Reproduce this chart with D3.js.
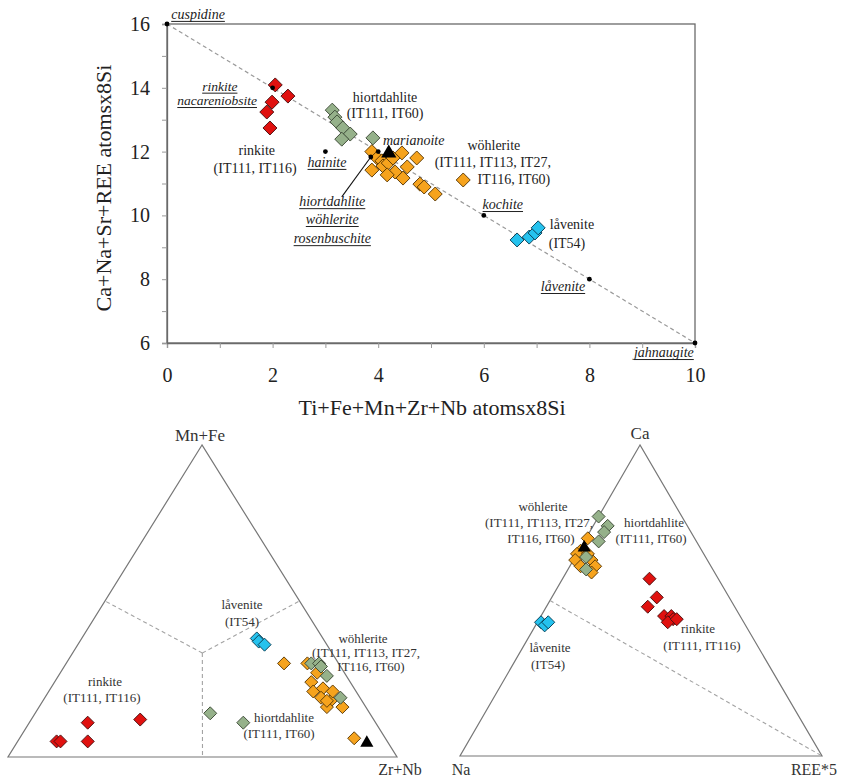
<!DOCTYPE html>
<html>
<head>
<meta charset="utf-8">
<script src="https://cdn.jsdelivr.net/npm/d3@7"></script>
<style>
  html, body { margin: 0; padding: 0; background: #fff; }
  svg { display: block; font-family: "Liberation Serif", "Times New Roman", serif; }
</style>
</head>
<body>
<svg id="chart" width="843" height="780"></svg>
<script>
// ---------- Binary plot: Ti+Fe+Mn+Zr+Nb vs Ca+Na+Sr+REE (atoms x 8 Si) ----------
const xTickValues = [0, 1, 2, 3, 4, 5, 6, 7, 8, 9, 10];
const yTickValues = [6, 7, 8, 9, 10, 11, 12, 13, 14, 15, 16];

const rinkiteXY = [[2.05, 14.09], [2.29, 13.74], [1.99, 13.55], [1.89, 13.24], [1.95, 12.74]];
const hiortdahliteXY = [[3.13, 13.30], [3.18, 13.08], [3.22, 12.93], [3.33, 12.74], [3.47, 12.55], [3.31, 12.39], [3.90, 12.43]];
const wohleriteXY = [
  [3.88, 12.00], [3.98, 11.80], [4.07, 11.71], [4.45, 11.96], [4.73, 11.80], [3.88, 11.42],
  [4.09, 11.55], [4.19, 11.64], [4.32, 11.36], [4.17, 11.27], [4.47, 11.17], [4.55, 11.52],
  [4.79, 10.98], [4.87, 10.89], [5.08, 10.67], [5.61, 11.11], [4.28, 11.80]
];
const laveniteXY = [[6.63, 9.23], [6.86, 9.32], [6.97, 9.45], [7.03, 9.61]];
const sampleTriangleXY = [[4.20, 11.95]];

// ideal end-member compositions along the substitution trend
const endMemberNames = ["cuspidine", "rinkite", "hainite", "marianoite", "hiortdahlite-wöhlerite-rosenbuschite", "kochite", "låvenite", "jahnaugite"];
const endMemberX = [0, 2, 3, 4, 3.86, 6, 8, 10];
const endMemberY = [16, 14, 12, 12, 11.83, 10, 8, 6];
const trendLine = [[0, 16], [10, 6]];

// ---------- Ternary Mn+Fe – Zr+Nb – Ti (fractions: [Mn+Fe, Zr+Nb]) ----------
const triA_rinkite = [[0.05, 0.10], [0.05, 0.11], [0.11, 0.15], [0.05, 0.18], [0.12, 0.28]];
const triA_wohlerite = [
  [0.30, 0.56], [0.30, 0.62], [0.24, 0.66], [0.21, 0.68], [0.22, 0.70], [0.19, 0.71], [0.18, 0.74],
  [0.21, 0.73], [0.16, 0.74], [0.16, 0.78], [0.27, 0.66], [0.18, 0.73], [0.06, 0.86]
];
const triA_hiortdahlite = [[0.14, 0.45], [0.11, 0.55], [0.30, 0.63], [0.30, 0.65], [0.29, 0.66], [0.26, 0.69], [0.19, 0.76]];
const triA_lavenite = [[0.38, 0.45], [0.37, 0.46], [0.36, 0.48]];
const triA_triangle = [[0.045, 0.90]];

// ---------- Ternary Ca – REE*5 – Na (fractions: [Ca, REE*5]) ----------
const triB_rinkite = [[0.57, 0.24], [0.51, 0.29], [0.48, 0.28], [0.45, 0.34], [0.45, 0.36], [0.44, 0.37], [0.43, 0.36], [0.44, 0.38]];
const triB_wohlerite = [[0.70, 0.005], [0.66, 0.005], [0.65, 0.0], [0.63, 0.05], [0.61, 0.07], [0.59, 0.07], [0.63, 0.005], [0.65, 0.03], [0.61, 0.03]];
const triB_hiortdahlite = [[0.77, 0.0], [0.74, 0.04], [0.72, 0.04], [0.69, 0.04], [0.64, 0.03], [0.60, 0.05]];
const triB_lavenite = [[0.43, 0.01], [0.42, 0.025], [0.43, 0.03]];
const triB_triangle = [[0.67, 0.01]];

// ---------- Styles ----------
const styles = {
  rinkite:      { fill: "#e0110f", stroke: "#4a1010" },
  wohlerite:    { fill: "#f6a31d", stroke: "#5b3a05" },
  hiortdahlite: { fill: "#95b18a", stroke: "#3e4b38" },
  lavenite:     { fill: "#25c2ee", stroke: "#0b3f55" }
};
const axisColor = "#6a6a6a";
const textColor = "#222";

const svg = d3.select("#chart");

// diamond = square rotated 45°
function diamond(halfDiag) {
  const side = halfDiag * Math.SQRT2;
  return d3.symbol().type(d3.symbolSquare).size(side * side)();
}
const triPath = d3.symbol().type(d3.symbolTriangle);

function drawSeries(g, pts, project, style, halfDiag) {
  g.selectAll(null).data(pts).join("path")
    .attr("d", diamond(halfDiag))
    .attr("transform", d => { const p = project(d); return `translate(${p[0]},${p[1]}) rotate(45)`; })
    .attr("fill", style.fill).attr("stroke", style.stroke).attr("stroke-width", 0.9);
}
function drawTriangles(g, pts, project, size) {
  g.selectAll(null).data(pts).join("path")
    .attr("d", triPath.size(size)())
    .attr("transform", d => { const p = project(d); return `translate(${p[0]},${p[1]})`; })
    .attr("fill", "#000");
}

// ================= Binary plot =================
const x = d3.scaleLinear().domain([0, 10]).range([167, 695]);
const y = d3.scaleLinear().domain([6, 16]).range([343, 24]);
const plot = svg.append("g");

// frame
plot.append("rect").attr("x", x(0)).attr("y", y(16)).attr("width", x(10) - x(0)).attr("height", y(6) - y(16))
  .attr("fill", "none").attr("stroke", axisColor).attr("stroke-width", 1.3);

const xAxis = d3.axisBottom(x).tickValues(xTickValues).tickFormat(d => d % 2 === 0 ? d : "").tickSize(5).tickPadding(20);
const yAxis = d3.axisLeft(y).tickValues(yTickValues).tickFormat(d => d % 2 === 0 ? d : "").tickSize(5).tickPadding(12);
const gx = plot.append("g").attr("transform", `translate(0,${y(6)})`).call(xAxis);
const gy = plot.append("g").attr("transform", `translate(${x(0)},0)`).call(yAxis);
[gx, gy].forEach(g => {
  g.select(".domain").attr("stroke", axisColor).attr("stroke-width", 1.3);
  g.selectAll(".tick line").attr("stroke", "#999");
  g.selectAll("text").attr("font-family", "Liberation Serif").attr("font-size", 20).attr("fill", textColor);
});

// axis titles
plot.append("text").attr("x", 432).attr("y", 415).attr("text-anchor", "middle")
  .attr("font-size", 22).attr("fill", textColor).text("Ti+Fe+Mn+Zr+Nb atomsx8Si");
plot.append("text").attr("transform", "translate(111,188) rotate(-90)").attr("text-anchor", "middle")
  .attr("font-size", 22).attr("fill", textColor).text("Ca+Na+Sr+REE atomsx8Si");

// trend line
plot.append("line").attr("x1", x(trendLine[0][0])).attr("y1", y(trendLine[0][1]))
  .attr("x2", x(trendLine[1][0])).attr("y2", y(trendLine[1][1]))
  .attr("stroke", "#9a9a9a").attr("stroke-width", 1.2).attr("stroke-dasharray", "4,3");

// pointer from the composite label to its end-member
plot.append("line").attr("x1", x(3.31)).attr("y1", y(10.58)).attr("x2", x(endMemberX[4])).attr("y2", y(endMemberY[4]))
  .attr("stroke", "#111").attr("stroke-width", 1.1);

const projXY = d => [x(d[0]), y(d[1])];
drawSeries(plot, rinkiteXY, projXY, styles.rinkite, 7);
drawSeries(plot, wohleriteXY, projXY, styles.wohlerite, 7);
drawSeries(plot, hiortdahliteXY, projXY, styles.hiortdahlite, 7);
drawSeries(plot, laveniteXY, projXY, styles.lavenite, 7);

// end-member points
plot.selectAll(null).data(endMemberX.map((v, i) => [v, endMemberY[i]])).join("circle")
  .attr("cx", d => x(d[0])).attr("cy", d => y(d[1])).attr("r", 2.4).attr("fill", "#000");

drawTriangles(plot, sampleTriangleXY, projXY, 100);

// annotations: [text, x, y (data units), anchor, italic/underlined, font size]
const plotLabels = [
  ["cuspidine", 0.08, 16.16, "start", true, 14],
  ["rinkite", 1.00, 13.91, "middle", true, 13.5],
  ["nacareniobsite", 0.95, 13.46, "middle", true, 13.5],
  ["rinkite", 1.70, 11.89, "middle", false, 14],
  ["(IT111, IT116)", 1.67, 11.33, "middle", false, 14],
  ["hiortdahlite", 4.13, 13.55, "middle", false, 14],
  ["(IT111, IT60)", 4.13, 13.05, "middle", false, 14],
  ["hainite", 3.03, 11.52, "middle", true, 14],
  ["marianoite", 4.09, 12.21, "start", "italicOnly", 14],
  ["wöhlerite", 6.19, 12.05, "middle", false, 14],
  ["(IT111, IT113, IT27,", 6.17, 11.52, "middle", false, 14],
  ["IT116, IT60)", 6.57, 10.98, "middle", false, 14],
  ["kochite", 6.36, 10.20, "middle", true, 14],
  ["hiortdahlite", 3.13, 10.29, "middle", true, 14],
  ["wöhlerite", 3.13, 9.73, "middle", true, 14],
  ["rosenbuschite", 3.13, 9.13, "middle", true, 14],
  ["låvenite", 7.25, 9.57, "start", false, 14],
  ["(IT54)", 7.23, 8.98, "start", false, 14],
  ["låvenite", 7.50, 7.63, "middle", true, 14],
  ["jahnaugite", 9.41, 5.56, "middle", true, 14]
];
plotLabels.forEach(([t, lx, ly, anchor, ital, fs]) => {
  const el = plot.append("text").attr("x", x(lx)).attr("y", y(ly)).attr("text-anchor", anchor)
    .attr("font-size", fs).attr("fill", textColor).text(t);
  if (ital) el.attr("font-style", "italic");
  if (ital === true) {
    const w = el.node().getComputedTextLength();
    const x0 = anchor === "middle" ? x(lx) - w / 2 : x(lx);
    plot.append("line").attr("x1", x0).attr("x2", x0 + w).attr("y1", y(ly) + 2.5).attr("y2", y(ly) + 2.5)
      .attr("stroke", textColor).attr("stroke-width", 1);
  }
});

// ================= Ternary diagrams =================
function ternary(apex, left, right) {
  const ty = d3.scaleLinear().domain([0, 1]).range([left[1], apex[1]]);
  const rx = d3.scaleLinear().domain([0, 1]).range([0, right[0] - left[0]]);
  const tx = d3.scaleLinear().domain([0, 1]).range([0, apex[0] - left[0]]);
  return d => [left[0] + rx(d[1]) + tx(d[0]), ty(d[0])];
}

function drawTernary(cfg) {
  const g = svg.append("g");
  const P = ternary(cfg.apex, cfg.left, cfg.right);
  g.append("path").attr("d", d3.line()([P([1, 0]), P([0, 0]), P([0, 1])]) + "Z")
    .attr("fill", "none").attr("stroke", "#777").attr("stroke-width", 1.2);
  cfg.guides.forEach(seg => {
    g.append("line").attr("x1", P(seg[0])[0]).attr("y1", P(seg[0])[1]).attr("x2", P(seg[1])[0]).attr("y2", P(seg[1])[1])
      .attr("stroke", "#a3a3a3").attr("stroke-width", 1.1).attr("stroke-dasharray", "4,3");
  });
  drawSeries(g, cfg.rinkite, P, styles.rinkite, 6.5);
  drawSeries(g, cfg.wohlerite, P, styles.wohlerite, 6.5);
  drawSeries(g, cfg.hiortdahlite, P, styles.hiortdahlite, 6.5);
  drawSeries(g, cfg.lavenite, P, styles.lavenite, 6.5);
  drawTriangles(g, cfg.triangle, P, 75);
  cfg.labels.forEach(([t, lx, ly, fs]) => {
    g.append("text").attr("x", lx).attr("y", ly).attr("text-anchor", "middle")
      .attr("font-size", fs).attr("fill", "#333").text(t);
  });
}

const third = 1 / 3;
drawTernary({
  apex: [202, 445], left: [8, 757], right: [397, 757],
  guides: [[[third, third], [0.5, 0]], [[third, third], [0.5, 0.5]], [[third, third], [0, 0.5]]],
  rinkite: triA_rinkite, wohlerite: triA_wohlerite, hiortdahlite: triA_hiortdahlite,
  lavenite: triA_lavenite, triangle: triA_triangle,
  labels: [
    ["Mn+Fe", 200, 441, 17], ["Zr+Nb", 400, 775, 16],
    ["låvenite", 242, 609, 13], ["(IT54)", 242, 626, 13],
    ["wöhlerite", 363, 643, 13], ["(IT111, IT113, IT27,", 366, 657, 13], ["IT116, IT60)", 371, 671, 13],
    ["rinkite", 105, 686, 13], ["(IT111, IT116)", 102, 702, 13],
    ["hiortdahlite", 284, 722, 13], ["(IT111, IT60)", 279, 738, 13]
  ]
});
drawTernary({
  apex: [640, 445], left: [460, 756], right: [822, 756],
  guides: [[[0.5, 0], [0, 1]]],
  rinkite: triB_rinkite, wohlerite: triB_wohlerite, hiortdahlite: triB_hiortdahlite,
  lavenite: triB_lavenite, triangle: triB_triangle,
  labels: [
    ["Ca", 640, 439, 17], ["Na", 461, 775, 16], ["REE*5", 814, 775, 16],
    ["wöhlerite", 543, 511, 13], ["(IT111, IT113, IT27,", 539, 527, 13], ["IT116, IT60)", 541, 543, 13],
    ["hiortdahlite", 654, 527, 13], ["(IT111, IT60)", 651, 543, 13],
    ["rinkite", 698, 633, 13], ["(IT111, IT116)", 702, 650, 13],
    ["låvenite", 550, 652, 13], ["(IT54)", 548, 669, 13]
  ]
});
</script>
</body>
</html>
